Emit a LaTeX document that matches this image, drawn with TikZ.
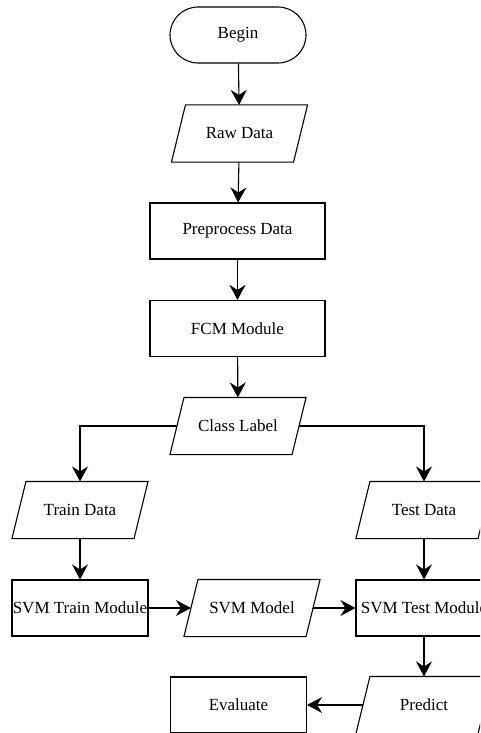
\documentclass[tikz,border=0pt]{standalone}
\usepackage{fontspec}
\setmainfont{Liberation Serif}
\usetikzlibrary{arrows.meta}
\begin{document}
\begin{tikzpicture}[x=1pt,y=-1pt,
  font=\fontsize{17}{19}\selectfont,
  base/.style={draw=black,line width=1.1pt,inner sep=0pt,align=center},
  term/.style={base,rectangle,rounded corners=28pt,minimum width=136pt,minimum height=56pt},
  proc/.style={base,rectangle,minimum width=136pt,minimum height=56pt},
  wide/.style={proc,minimum width=175pt},
  io/.style={base,draw=none,rectangle,minimum width=121pt,minimum height=56pt},
  para/.style={line width=1.1pt,line join=miter},
  arr/.style={line width=1.1pt,-{Stealth[length=15pt,width=16pt,inset=5pt]}}]
\useasboundingbox (0,0) rectangle (480,733);
\clip (0,0) rectangle (480,733);
\fill[white] (0,0) rectangle (480,733);
\node[term] (begin) at (238,35) {Begin};
\node[io] (raw) at (239.5,133.5) {Raw Data};
\node[wide] (pre) at (237.5,231) {Preprocess Data};
\node[wide] (fcm) at (237.5,328.5) {FCM Module};
\node[io] (class) at (238,426) {Class Label};
\node[io] (train) at (80,510) {Train Data};
\node[io] (test) at (424,510) {Test Data};
\node[proc] (svmtrain) at (80,608) {SVM Train Module};
\node[io] (model) at (252,608) {SVM Model};
\node[proc] (svmtest) at (424,608) {SVM Test Module};
\node[io] (predict) at (424,705) {Predict};
\node[proc] (eval) at (238.5,705) {Evaluate};
\foreach \n in {raw,class,train,test,model,predict}{
  \draw[para] ([xshift=7pt]\n.north west) -- ([xshift=7pt]\n.north east)
    -- ([xshift=-7pt]\n.south east) -- ([xshift=-7pt]\n.south west) -- cycle;
}
\draw[arr] (begin) -- (raw);
\draw[arr] (raw) -- (pre);
\draw[arr] (pre) -- (fcm);
\draw[arr] (fcm) -- (class);
\draw[arr] (class.west) -| (train.north);
\draw[arr] (class.east) -| (test.north);
\draw[arr] (train) -- (svmtrain);
\draw[arr] (test) -- (svmtest);
\draw[arr] (svmtrain) -- (model);
\draw[arr] (model) -- (svmtest);
\draw[arr] (svmtest) -- (predict);
\draw[arr] (predict) -- (eval);
\end{tikzpicture}
\end{document}
